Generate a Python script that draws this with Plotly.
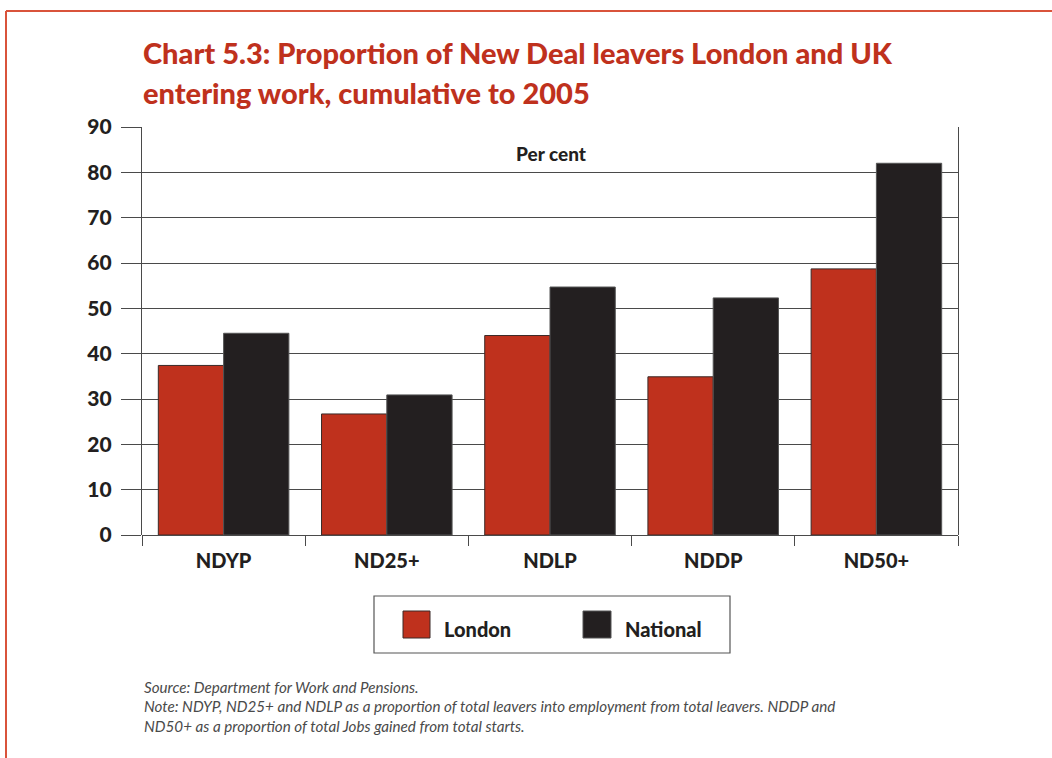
import plotly.graph_objects as go

# Data: proportion of New Deal leavers entering work, cumulative to 2005 (per cent)
categories = ["NDYP", "ND25+", "NDLP", "NDDP", "ND50+"]
london = [37.4, 26.7, 44.0, 34.9, 58.7]
national = [44.5, 30.9, 54.7, 52.3, 82.0]
y_ticks = [0, 10, 20, 30, 40, 50, 60, 70, 80, 90]

RED = "#BF311D"
BLACK = "#231F20"
FRAME = "#D9533B"
GRID = "#4a4a4a"
FONT = "Lato"

W, H = 1052, 758
L, R, T, B = 142, 94, 127, 223
pw, ph = W - L - R, H - T - B


def px(x):
    return (x - L) / pw


def py(y):
    return (H - B - y) / ph


fig = go.Figure()
fig.add_bar(name="London", x=categories, y=london,
            marker=dict(color=RED, line=dict(color="#3a2a28", width=1)))
fig.add_bar(name="National", x=categories, y=national,
            marker=dict(color=BLACK, line=dict(color="#555555", width=1)))

fig.update_layout(
    width=W, height=H,
    margin=dict(l=L, r=R, t=T, b=B),
    paper_bgcolor="white", plot_bgcolor="white",
    barmode="group", bargap=0.2, bargroupgap=0,
    showlegend=False,
    font=dict(family=FONT, color=BLACK),
)

fig.update_yaxes(
    range=[0, 90], tickvals=y_ticks, ticktext=[str(v) for v in y_ticks],
    showgrid=True, gridcolor=GRID, gridwidth=1.2,
    zeroline=True, zerolinecolor=GRID, zerolinewidth=1.2,
    showline=True, linecolor=GRID, linewidth=1.2, mirror=True,
    ticks="outside", ticklen=20, tickcolor=GRID, tickwidth=1.2,
    tickfont=dict(family=FONT, size=21, color=BLACK, weight=900),
    ticklabelstandoff=5,
)
fig.update_xaxes(
    showgrid=False, showline=False, zeroline=False,
    ticks="outside", tickson="boundaries", ticklen=10, tickcolor=GRID, tickwidth=1.2,
    tickfont=dict(family=FONT, size=20, color=BLACK, weight=900),
    ticklabelstandoff=12,
)

shapes = []
# Red page frame (top and left edges)
shapes.append(dict(type="line", xref="paper", yref="paper",
                   x0=px(6), x1=px(W + 2), y0=py(11), y1=py(11),
                   line=dict(color=FRAME, width=2)))
shapes.append(dict(type="line", xref="paper", yref="paper",
                   x0=px(6), x1=px(6), y0=py(11), y1=py(H + 2),
                   line=dict(color=FRAME, width=2)))
# Legend box and swatches
shapes.append(dict(type="rect", xref="paper", yref="paper",
                   x0=px(374), x1=px(730), y0=py(596), y1=py(653),
                   line=dict(color="#555555", width=1.2), fillcolor="white"))
shapes.append(dict(type="rect", xref="paper", yref="paper",
                   x0=px(403), x1=px(430), y0=py(611), y1=py(638),
                   line=dict(color="#3a2a28", width=1), fillcolor=RED))
shapes.append(dict(type="rect", xref="paper", yref="paper",
                   x0=px(583), x1=px(611), y0=py(611), y1=py(638),
                   line=dict(color="#555555", width=1), fillcolor=BLACK))
fig.update_layout(shapes=shapes)

title_font = dict(family=FONT, size=29, color=RED, weight=900)
note_font = dict(family=FONT, size=15.2, color="#4a4a4a", style="italic", weight=400)
annotations = [
    dict(text="Chart 5.3: Proportion of New Deal leavers London and UK",
         xref="paper", yref="paper", x=px(141), y=py(52), xanchor="left", yanchor="middle",
         showarrow=False, font=title_font),
    dict(text="entering work, cumulative to 2005",
         xref="paper", yref="paper", x=px(141), y=py(92), xanchor="left", yanchor="middle",
         showarrow=False, font=title_font),
    dict(text="Per cent", xref="paper", yref="paper", x=px(551), y=py(153),
         xanchor="center", yanchor="middle", showarrow=False,
         font=dict(family=FONT, size=19, color=BLACK, weight=900)),
    dict(text="London", xref="paper", yref="paper", x=px(442), y=py(629),
         xanchor="left", yanchor="middle", showarrow=False,
         font=dict(family=FONT, size=20, color=BLACK, weight=900)),
    dict(text="National", xref="paper", yref="paper", x=px(623), y=py(629),
         xanchor="left", yanchor="middle", showarrow=False,
         font=dict(family=FONT, size=20, color=BLACK, weight=900)),
    dict(text="Source: Department for Work and Pensions.",
         xref="paper", yref="paper", x=px(142), y=py(687), xanchor="left", yanchor="middle",
         showarrow=False, font=note_font),
    dict(text="Note: NDYP, ND25+ and NDLP as a proportion of total leavers into employment from total leavers. NDDP and",
         xref="paper", yref="paper", x=px(142), y=py(706), xanchor="left", yanchor="middle",
         showarrow=False, font=note_font),
    dict(text="ND50+ as a proportion of total Jobs gained from total starts.",
         xref="paper", yref="paper", x=px(142), y=py(726), xanchor="left", yanchor="middle",
         showarrow=False, font=note_font),
]
fig.update_layout(annotations=annotations)

fig.write_html("out.html")
